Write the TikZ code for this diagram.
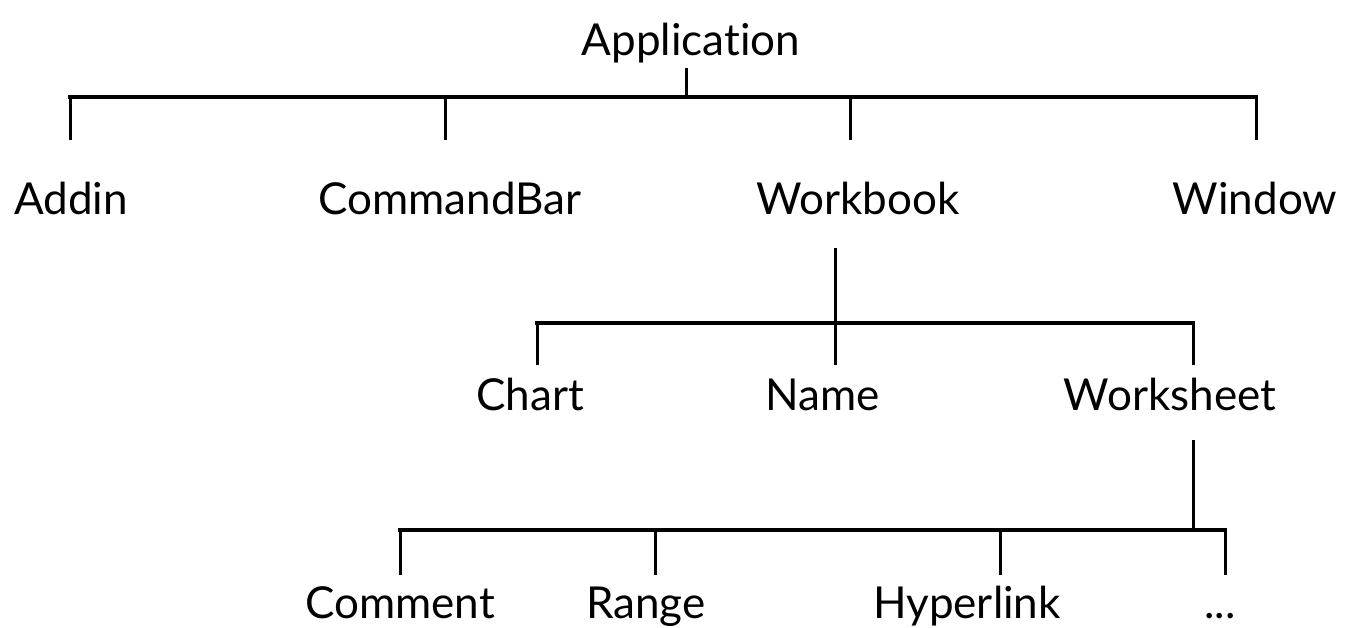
\documentclass[tikz,border=0pt]{standalone}
\usepackage{fontspec}
\setmainfont[Ligatures={NoCommon,NoDiscretionary,NoContextual}]{Lato}
\begin{document}
\begin{tikzpicture}[x=1pt,y=-1pt,
  lbl/.style={anchor=base,inner sep=0pt,font=\fontsize{44}{50}\selectfont},
  bar/.style={line width=4pt,line cap=rect},
  drop/.style={line width=3pt}]
\useasboundingbox (0,0) rectangle (1345,628);
% texts
\node[lbl] (app) at (691,56) {Application};
\node[lbl] (addin) at (71,215) {Addin};
\node[lbl] (cmd) at (450,215) {CommandBar};
\node[lbl] (wb) at (858,215) {Workbook};
\node[lbl] (win) at (1255,215) {Window};
\node[lbl] (chart) at (530,410) {Chart};
\node[lbl] (name) at (823,410) {Name};
\node[lbl] (ws) at (1170,410) {Worksheet};
\node[lbl] (cm) at (400,618) {Comment};
\node[lbl] (rg) at (646,618) {Range};
\node[lbl] (hl) at (967,618) {Hyperlink};
\node[lbl] (dots) at (1220,618) {...};
% junction coordinates
\coordinate (a0) at (686,68);
\coordinate (a1) at (686,97);
\coordinate (b1l) at (70,97);
\coordinate (b1r) at (1256,97);
\coordinate (d1) at (70,140);
\coordinate (d2) at (445,140);
\coordinate (d3) at (850,140);
\coordinate (d4) at (1256,140);
\coordinate (w0) at (835,248);
\coordinate (w1) at (835,323);
\coordinate (b2l) at (537,323);
\coordinate (b2r) at (1193,323);
\coordinate (e1) at (537,365);
\coordinate (e2) at (835,365);
\coordinate (e3) at (1193,365);
\coordinate (s0) at (1193,440);
\coordinate (s1) at (1193,530);
\coordinate (b3l) at (400,530);
\coordinate (b3r) at (1225,530);
\coordinate (f1) at (400,575);
\coordinate (f2) at (655,575);
\coordinate (f3) at (1000,575);
\coordinate (f4) at (1225,575);
% connectors
\draw[drop] (a0) -- (a1);
\draw[bar] (b1l) -- (b1r);
\draw[drop] (b1l) -- (d1);
\draw[drop] (445,97) -- (d2);
\draw[drop] (850,97) -- (d3);
\draw[drop] (b1r) -- (d4);
\draw[drop] (w0) -- (e2);
\draw[bar] (b2l) -- (b2r);
\draw[drop] (b2l) -- (e1);
\draw[drop] (b2r) -- (e3);
\draw[drop] (s0) -- (s1);
\draw[bar] (b3l) -- (b3r);
\draw[drop] (b3l) -- (f1);
\draw[drop] (655,530) -- (f2);
\draw[drop] (1000,530) -- (f3);
\draw[drop] (b3r) -- (f4);
\end{tikzpicture}
\end{document}
